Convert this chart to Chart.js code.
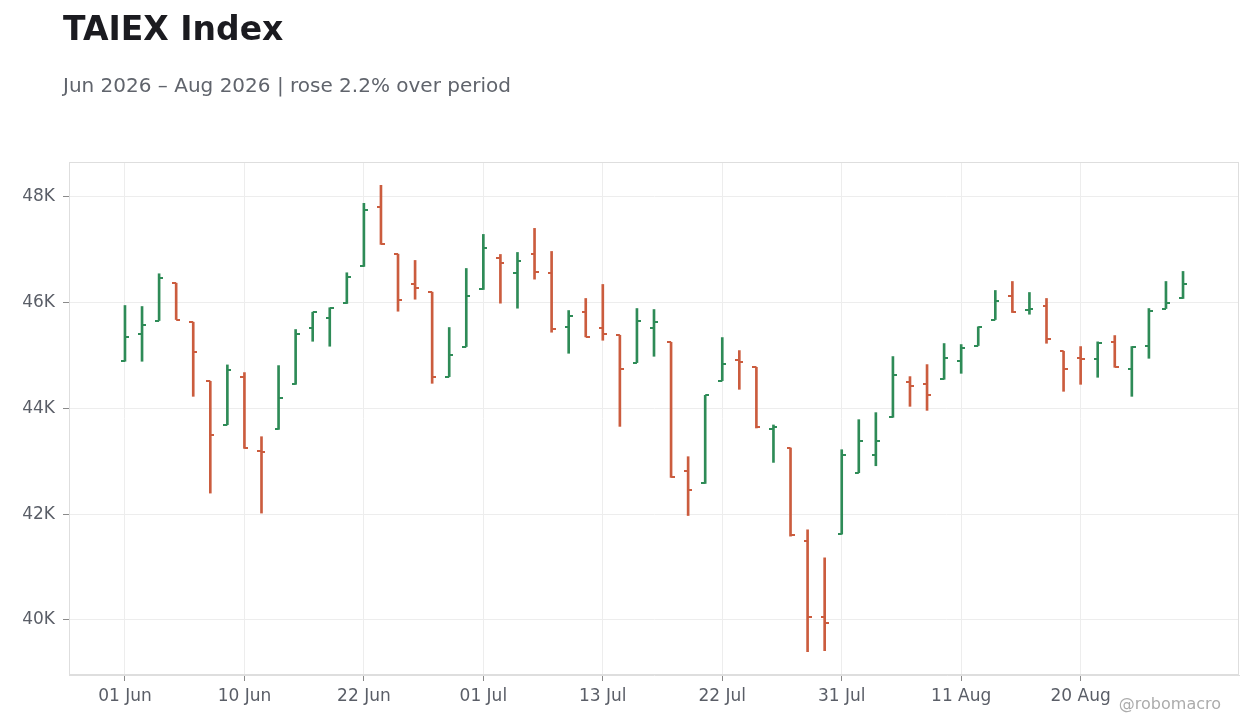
<!DOCTYPE html>
<html>
<head>
<meta charset="utf-8">
<title>TAIEX Index</title>
<script src="https://cdn.jsdelivr.net/npm/chart.js@4.4.1/dist/chart.umd.min.js"></script>
<style>
  html, body { margin: 0; padding: 0; background: #ffffff; }
  #wrap { position: relative; width: 1260px; height: 728px; font-family: 'DejaVu Sans', sans-serif; }
  #grafico { position: absolute; left: 0; top: 0; }
  .titulo { position: absolute; left: 63px; top: 12px; font-size: 33px; line-height: 1; font-weight: bold; color: #1b1b20; white-space: nowrap; }
  .subtitulo { position: absolute; left: 63px; top: 75px; font-size: 20px; line-height: 1; color: #60646c; white-space: nowrap; }
  .marca { position: absolute; right: 39px; top: 696px; font-size: 16px; line-height: 16px; color: #acacac; white-space: nowrap; }
</style>
</head>
<body>
<div id="wrap">
  <canvas id="grafico" width="1260" height="728"></canvas>
  <div class="titulo">TAIEX Index</div>
  <div class="subtitulo">Jun 2026 – Aug 2026 | rose 2.2% over period</div>
  <div class="marca">@robomacro</div>
</div>
<script>
// trading days shown on the x axis
const dates = [
  '01 Jun', '02 Jun', '03 Jun', '04 Jun', '05 Jun', '08 Jun', '09 Jun', '10 Jun', '11 Jun', '12 Jun',
  '15 Jun', '16 Jun', '17 Jun', '18 Jun', '22 Jun', '23 Jun', '24 Jun', '25 Jun', '26 Jun', '29 Jun',
  '30 Jun', '01 Jul', '02 Jul', '06 Jul', '07 Jul', '08 Jul', '09 Jul', '10 Jul', '13 Jul', '14 Jul',
  '15 Jul', '16 Jul', '17 Jul', '20 Jul', '21 Jul', '22 Jul', '23 Jul', '24 Jul', '27 Jul', '28 Jul',
  '29 Jul', '30 Jul', '31 Jul', '03 Aug', '04 Aug', '05 Aug', '06 Aug', '07 Aug', '10 Aug', '11 Aug',
  '12 Aug', '13 Aug', '14 Aug', '17 Aug', '18 Aug', '19 Aug', '20 Aug', '21 Aug', '24 Aug', '25 Aug',
  '26 Aug', '27 Aug', '28 Aug'
];

const openValues = [
  44890, 45401, 45660, 46366, 45628, 44511, 43691, 44587, 43186, 43602,
  44454, 45514, 45704, 45982, 46682, 47805, 46915, 46347, 46196, 44600,
  45168, 46247, 46840, 46556, 46915, 46556, 45533, 45817, 45514, 45382,
  44865, 45514, 45249, 42807, 42580, 44524, 44909, 44776, 43602, 43250,
  41501, 40062, 41622, 42783, 43110, 43830, 44492, 44454, 44549, 44890,
  45187, 45679, 46120, 45855, 45931, 45079, 44950, 44928, 45249, 44738,
  45174, 45887, 46077
];
const highValues = [
  45944, 45925, 46544, 46366, 45628, 44511, 44821, 44676, 43464, 44808,
  45490, 45817, 45901, 46563, 47875, 48216, 46915, 46796, 46196, 45528,
  46644, 47288, 46909, 46947, 47402, 46966, 45849, 46077, 46342, 45382,
  45887, 45868, 45249, 43086, 44246, 45338, 45092, 44776, 43686, 43250,
  41704, 41174, 43218, 43786, 43919, 44979, 44600, 44827, 45225, 45206,
  45541, 46228, 46398, 46190, 46077, 45079, 45168, 45257, 45376, 45168,
  45887, 46398, 46588
];
const lowValues = [
  44890, 44890, 45660, 45679, 44227, 42398, 43691, 43243, 42020, 43602,
  44454, 45268, 45174, 45982, 46682, 47099, 45836, 46063, 44473, 44600,
  45168, 46247, 45988, 45893, 46442, 45439, 45041, 45351, 45287, 43659,
  44865, 44984, 42694, 41974, 42580, 44524, 44360, 43629, 42978, 41584,
  39400, 39419, 41622, 42783, 42915, 43830, 44038, 43962, 44549, 44662,
  45187, 45679, 45812, 45779, 45230, 44322, 44454, 44587, 44776, 44227,
  44946, 45887, 46077
];
const closeValues = [
  45344, 45571, 46455, 45679, 45073, 43502, 44719, 43243, 43167, 44189,
  45401, 45817, 45901, 46480, 47742, 47099, 46044, 46272, 44587, 45003,
  46133, 47029, 46745, 46783, 46574, 45495, 45741, 45357, 45401, 44751,
  45647, 45628, 42694, 42461, 44246, 44833, 44871, 43653, 43640, 41609,
  40062, 39949, 43123, 43388, 43375, 44625, 44416, 44246, 44946, 45136,
  45541, 46025, 45812, 45882, 45319, 44738, 44935, 45230, 44776, 45168,
  45836, 45988, 46347
];

// y axis tick values
const yTicks = [40000, 42000, 44000, 46000, 48000];

const corSobe = '#2e8b57';
const corDesce = '#cb5c3e';

const sobe = closeValues.map((c, i) => c >= openValues[i]);
const cores = sobe.map(s => (s ? corSobe : corDesce));

// small images for the open (left) and close (right) ticks
function fazerTraco(cor, lado) {
  const c = document.createElement('canvas');
  c.width = 8;
  c.height = 2;
  const g = c.getContext('2d');
  g.fillStyle = cor;
  if (lado === 'esq') g.fillRect(0, 0, 4, 2);
  else g.fillRect(4, 0, 4, 2);
  return c;
}
const abreSobe = fazerTraco(corSobe, 'esq');
const abreDesce = fazerTraco(corDesce, 'esq');
const fechaSobe = fazerTraco(corSobe, 'dir');
const fechaDesce = fazerTraco(corDesce, 'dir');

const minimo = Math.min(...lowValues);
const maximo = Math.max(...highValues);
const folga = (maximo - minimo) * 0.05;
const margemX = 3.28;

const bordaArea = {
  id: 'bordaArea',
  beforeDatasetsDraw(chart) {
    const { ctx, chartArea } = chart;
    ctx.save();
    ctx.strokeStyle = '#dedede';
    ctx.lineWidth = 1;
    ctx.strokeRect(chartArea.left + 0.5, chartArea.top + 0.5, chartArea.width - 1, chartArea.height - 1);
    ctx.restore();
  }
};

Chart.defaults.font.family = "'DejaVu Sans', sans-serif";
Chart.defaults.animation = false;

const canvas_grafico = document.getElementById('grafico');
const ctx = canvas_grafico.getContext('2d');

new Chart(ctx, {
  type: 'bar',
  data: {
    datasets: [
      {
        type: 'bar',
        label: 'High-Low',
        data: dates.map((d, i) => ({ x: i, y: [lowValues[i], highValues[i]] })),
        backgroundColor: cores,
        borderWidth: 0,
        barThickness: 2,
        order: 2,
      },
      {
        type: 'scatter',
        label: 'Open',
        data: dates.map((d, i) => ({ x: i, y: openValues[i] })),
        pointStyle: c => (sobe[c.dataIndex] ? abreSobe : abreDesce),
        pointRadius: 1,
        showLine: false,
        order: 1,
      },
      {
        type: 'scatter',
        label: 'Close',
        data: dates.map((d, i) => ({ x: i, y: closeValues[i] })),
        pointStyle: c => (sobe[c.dataIndex] ? fechaSobe : fechaDesce),
        pointRadius: 1,
        showLine: false,
        order: 1,
      },
    ],
  },
  options: {
    responsive: false,
    maintainAspectRatio: false,
    layout: { padding: { top: 162, right: 21, left: 0, bottom: 0 } },
    plugins: {
      legend: { display: false },
      tooltip: { enabled: false },
      title: { display: false },
    },
    scales: {
      x: {
        type: 'linear',
        offset: false,
        min: -margemX,
        max: dates.length - 1 + margemX,
        afterBuildTicks: scale => {
          scale.ticks = dates.map((d, i) => i).filter(i => i % 7 === 0).map(i => ({ value: i }));
        },
        afterFit: scale => { scale.height = 53; },
        grid: { offset: false, color: '#ededed', tickColor: '#8a8a8a', tickLength: 6, drawOnChartArea: true },
        border: { display: true, color: '#dedede' },
        ticks: {
          autoSkip: false,
          maxRotation: 0,
          padding: 5,
          color: '#5a5e67',
          font: { size: 17 },
          callback: v => dates[v],
        },
      },
      y: {
        min: minimo - folga,
        max: maximo + folga,
        afterBuildTicks: scale => {
          scale.ticks = yTicks.map(v => ({ value: v }));
        },
        afterFit: scale => { scale.width = 69; },
        grid: { color: '#ededed', tickColor: '#8a8a8a', tickLength: 6 },
        border: { display: true, color: '#dedede' },
        ticks: {
          padding: 8,
          color: '#5a5e67',
          font: { size: 17 },
          callback: v => v / 1000 + 'K',
        },
      },
    },
  },
  plugins: [bordaArea],
});
</script>
</body>
</html>
